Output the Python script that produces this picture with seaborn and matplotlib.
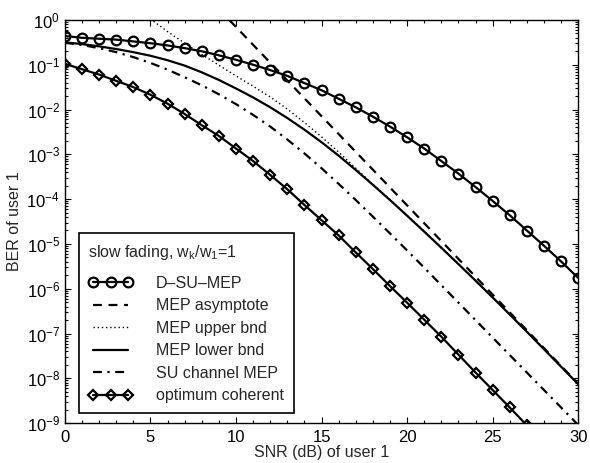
import matplotlib
matplotlib.use("Agg")
import matplotlib.pyplot as plt
import numpy as np
import seaborn as sns
from matplotlib.ticker import FixedLocator, MultipleLocator, NullFormatter

# SNR grid (dB) and BER curves, stored as log10(BER)
snr = np.arange(0, 31)

d_su_mep = [-0.36, -0.40, -0.42, -0.44, -0.48, -0.52, -0.57, -0.63, -0.70, -0.79,
            -0.89, -1.00, -1.12, -1.25, -1.41, -1.57, -1.76, -1.95, -2.16, -2.38,
            -2.62, -2.87, -3.15, -3.43, -3.73, -4.04, -4.36, -4.70, -5.04, -5.39, -5.76]

mep_lower = [-0.50, -0.54, -0.59, -0.65, -0.72, -0.80, -0.90, -1.02, -1.17, -1.34,
             -1.53, -1.73, -1.95, -2.19, -2.45, -2.73, -3.03, -3.35, -3.68, -4.02,
             -4.37, -4.725, -5.085, -5.45, -5.82, -6.195, -6.575, -6.96, -7.35, -7.74, -8.13]

snr_upper = np.arange(4, 31)
mep_upper = [0.30, 0.02, -0.26, -0.52, -0.77, -1.01, -1.25, -1.48, -1.72, -1.99,
             -2.29, -2.61, -2.95, -3.31, -3.67, -4.01, -4.36, -4.715, -5.075, -5.44,
             -5.81, -6.185, -6.565, -6.95, -7.34, -7.73, -8.12]

snr_asym = [9.0, 30.0]
mep_asym = [0.24, -8.12]

su_channel = [-0.51, -0.56, -0.63, -0.72, -0.83, -0.96, -1.11, -1.28, -1.46, -1.66,
              -1.88, -2.12, -2.38, -2.67, -2.98, -3.31, -3.66, -4.02, -4.39, -4.765,
              -5.145, -5.53, -5.92, -6.31, -6.70, -7.09, -7.48, -7.87, -8.26, -8.65, -9.04]

opt_coherent = [-0.98, -1.10, -1.22, -1.36, -1.50, -1.67, -1.87, -2.10, -2.35, -2.59,
                -2.87, -3.15, -3.46, -3.78, -4.13, -4.47, -4.81, -5.19, -5.56, -5.94,
                -6.31, -6.69, -7.07, -7.47, -7.87, -8.26, -8.65, -9.05, -9.44, -9.83, -10.2]

x_ticks = [0, 5, 10, 15, 20, 25, 30]
y_ticks = [1e-9, 1e-8, 1e-7, 1e-6, 1e-5, 1e-4, 1e-3, 1e-2, 1e-1, 1e0]

sns.set_theme(style="ticks")
plt.rcParams["font.family"] = ["Liberation Sans", "DejaVu Sans"]
plt.rcParams["mathtext.fontset"] = "custom"
plt.rcParams["mathtext.rm"] = "Liberation Sans"
plt.rcParams["mathtext.it"] = "Liberation Sans"

fig, ax = plt.subplots(figsize=(5.9, 4.63), dpi=100)
fig.subplots_adjust(left=0.110, right=0.980, top=0.957, bottom=0.086)

k = "black"
sns.lineplot(x=snr, y=10.0 ** np.array(d_su_mep), ax=ax, color=k, lw=1.6,
             marker="o", markersize=7, markerfacecolor="none", markeredgecolor=k,
             markeredgewidth=1.6, label="D\u2013SU\u2013MEP")
sns.lineplot(x=snr_asym, y=10.0 ** np.array(mep_asym), ax=ax, color=k, lw=1.6,
             linestyle=(0, (4, 3)), label="MEP asymptote")
sns.lineplot(x=snr_upper, y=10.0 ** np.array(mep_upper), ax=ax, color=k, lw=1.0,
             linestyle=(0, (1, 2)), label="MEP upper bnd")
sns.lineplot(x=snr, y=10.0 ** np.array(mep_lower), ax=ax, color=k, lw=1.6,
             label="MEP lower bnd")
sns.lineplot(x=snr, y=10.0 ** np.array(su_channel), ax=ax, color=k, lw=1.6,
             linestyle=(0, (4, 2.5, 1, 2.5)), label="SU channel MEP")
sns.lineplot(x=snr, y=10.0 ** np.array(opt_coherent), ax=ax, color=k, lw=1.6,
             marker="D", markersize=5.5, markerfacecolor="none", markeredgecolor=k,
             markeredgewidth=1.6, label="optimum coherent")

ax.set_yscale("log")
ax.set_xlim(0, 30)
ax.set_ylim(1e-9, 1)
ax.set_xticks(x_ticks)
ax.xaxis.set_minor_locator(MultipleLocator(1))
ax.yaxis.set_major_locator(FixedLocator(y_ticks))
minor = [m * t for t in y_ticks[:-1] for m in range(2, 10)]
ax.yaxis.set_minor_locator(FixedLocator(minor))
ax.yaxis.set_minor_formatter(NullFormatter())
ax.tick_params(which="both", direction="in", top=True, right=True, colors=k,
               labelsize=12, width=0.8)
ax.tick_params(which="major", length=4)
ax.tick_params(which="minor", length=2)
ax.tick_params(axis="x", which="major", pad=5)
for s in ax.spines.values():
    s.set_color(k)
    s.set_linewidth(1.0)

ax.set_xlabel("SNR (dB) of user 1", fontsize=11.5, labelpad=0)
ax.set_ylabel("BER of user 1", fontsize=11.5, labelpad=3)

leg = ax.legend(loc="lower left", bbox_to_anchor=(0.027, 0.0255), borderaxespad=0,
                fontsize=11.5, title="slow fading, w$_k$/w$_1$=1", title_fontsize=11.5,
                numpoints=3, handlelength=2.8, handletextpad=1.45,
                labelspacing=0.47, borderpad=0.6, fancybox=False,
                framealpha=1, edgecolor=k, alignment="left")
leg._legend_box.sep = 0.47 * 11.5 + 4.5
leg.get_frame().set_linewidth(1.2)

plt.savefig("out.png", dpi=100)
plt.close()
